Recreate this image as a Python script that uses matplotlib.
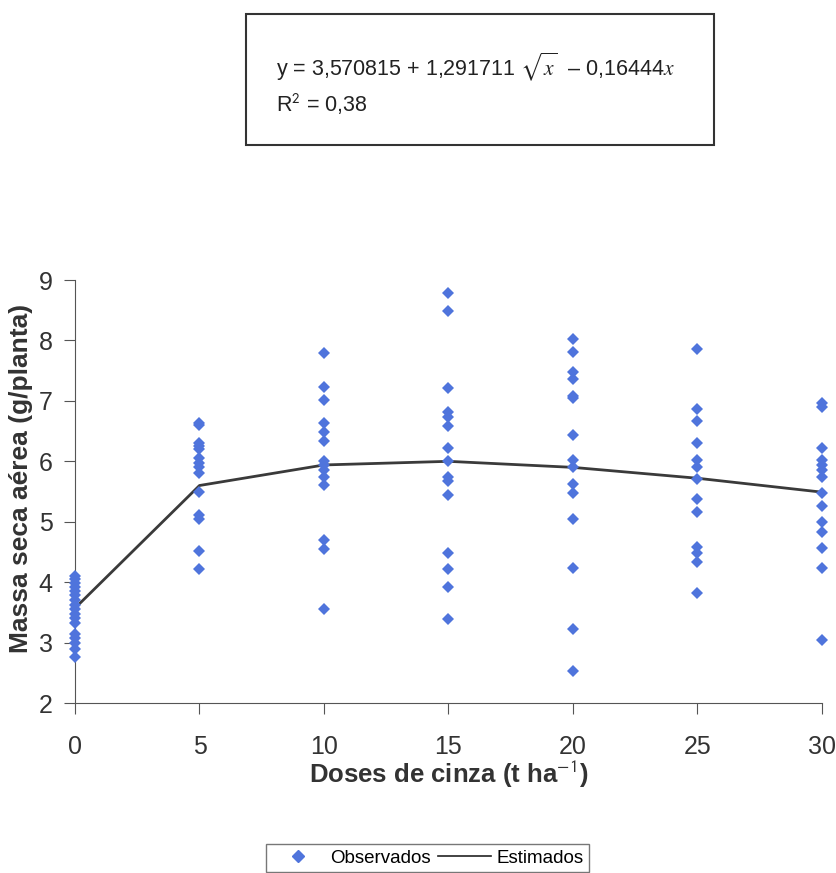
import numpy as np
import matplotlib
matplotlib.use("Agg")
import matplotlib.pyplot as plt
from matplotlib.patches import Rectangle
from matplotlib.lines import Line2D

plt.rcParams["font.family"] = ["Liberation Sans", "DejaVu Sans"]
plt.rcParams["mathtext.fontset"] = "stix"

# ------------------------------------------------
# Data
# ------------------------------------------------
doses = [0, 5, 10, 15, 20, 25, 30]

obs_0 = [4.1, 4.05, 3.98, 3.92, 3.85, 3.78, 3.7, 3.63, 3.55, 3.48, 3.4, 3.33,
         3.15, 3.08, 3.0, 2.9, 2.77]
obs_5 = [6.64, 6.6, 6.3, 6.25, 6.2, 6.05, 5.98, 5.9, 5.8, 5.5, 5.12, 5.05, 4.52, 4.22]
obs_10 = [7.79, 7.23, 7.02, 6.64, 6.49, 6.34, 6.0, 5.94, 5.86, 5.74, 5.61, 4.7, 4.55, 3.56]
obs_15 = [8.79, 8.49, 7.21, 6.82, 6.74, 6.59, 6.22, 6.0, 5.74, 5.68, 5.44, 4.48,
          4.22, 3.92, 3.39]
obs_20 = [8.03, 7.81, 7.48, 7.36, 7.08, 7.05, 6.44, 6.02, 5.91, 5.63, 5.48, 5.04,
          4.23, 3.23, 2.53]
obs_25 = [7.86, 6.87, 6.67, 6.3, 6.02, 5.91, 5.71, 5.38, 5.16, 4.58, 4.48, 4.33, 3.82]
obs_30 = [6.97, 6.9, 6.22, 6.02, 5.94, 5.86, 5.74, 5.48, 5.26, 5.0, 4.83, 4.57,
          4.24, 3.04]
observed = [obs_0, obs_5, obs_10, obs_15, obs_20, obs_25, obs_30]

estimated = [3.57, 5.6, 5.94, 6.0, 5.9, 5.72, 5.49]

# ------------------------------------------------
# Plot
# ------------------------------------------------
fig = plt.figure(figsize=(8.37, 8.73), dpi=100)
ax = fig.add_axes([0.0896, 0.1947, 0.8924, 0.4845])

blue = "#4f74dc"
for d, vals in zip(doses, observed):
    ax.plot([d] * len(vals), vals, "D", color=blue, markersize=6.5,
            markeredgewidth=0, zorder=3, clip_on=False)
ax.plot(doses, estimated, "-", color="#3a3a3a", linewidth=2, zorder=2)

ax.set_xlim(0, 30)
ax.set_ylim(2, 9)
ax.set_xticks(doses)
ax.set_yticks(range(2, 10))
ax.spines["top"].set_visible(False)
ax.spines["right"].set_visible(False)
ax.spines["left"].set_color("#555555")
ax.spines["bottom"].set_color("#555555")
ax.tick_params(axis="x", direction="out", length=8, pad=15, labelsize=18,
               colors="#555555", labelcolor="#333333")
ax.tick_params(axis="y", direction="out", length=8, pad=8, labelsize=18,
               colors="#555555", labelcolor="#333333")

ax.set_xlabel("Doses de cinza (t ha$^{\\mathsf{-1}}$)", fontsize=18.5,
              fontweight="bold", color="#333333", labelpad=0)
ax.set_ylabel("Massa seca aérea (g/planta)", fontsize=19,
              fontweight="bold", color="#333333")
ax.yaxis.set_label_coords(-0.056, 0.53)

# equation box
fig.patches.append(Rectangle((0.294, 0.834), 0.559, 0.150, transform=fig.transFigure,
                             fill=False, edgecolor="#333333", linewidth=1.5))
fig.text(0.33, 0.924,
         r"y = 3,570815 + 1,291711 $\sqrt{\mathit{x}}$  – 0,16444$\mathsf{\mathit{x}}$",
         fontsize=15.5, color="#222222", va="center")
fig.text(0.33, 0.880, "R$^{\\mathsf{2}}$ = 0,38", fontsize=15.5, color="#222222",
         va="center")

# legend
handles = [Line2D([], [], marker="D", color=blue, linestyle="none", markersize=6),
           Line2D([], [], color="#222222", linewidth=1.2)]
leg = fig.legend(handles, ["Observados", "Estimados"], loc="upper left",
                 bbox_to_anchor=(0.318, 1 - 844 / 873), ncol=2, fontsize=13.5,
                 frameon=True, fancybox=False, edgecolor="#555555",
                 handlelength=2.8, columnspacing=0.4, handletextpad=0.3,
                 borderpad=0.3, borderaxespad=0)
leg.get_frame().set_linewidth(1.0)

fig.savefig("out.png", dpi=100)
